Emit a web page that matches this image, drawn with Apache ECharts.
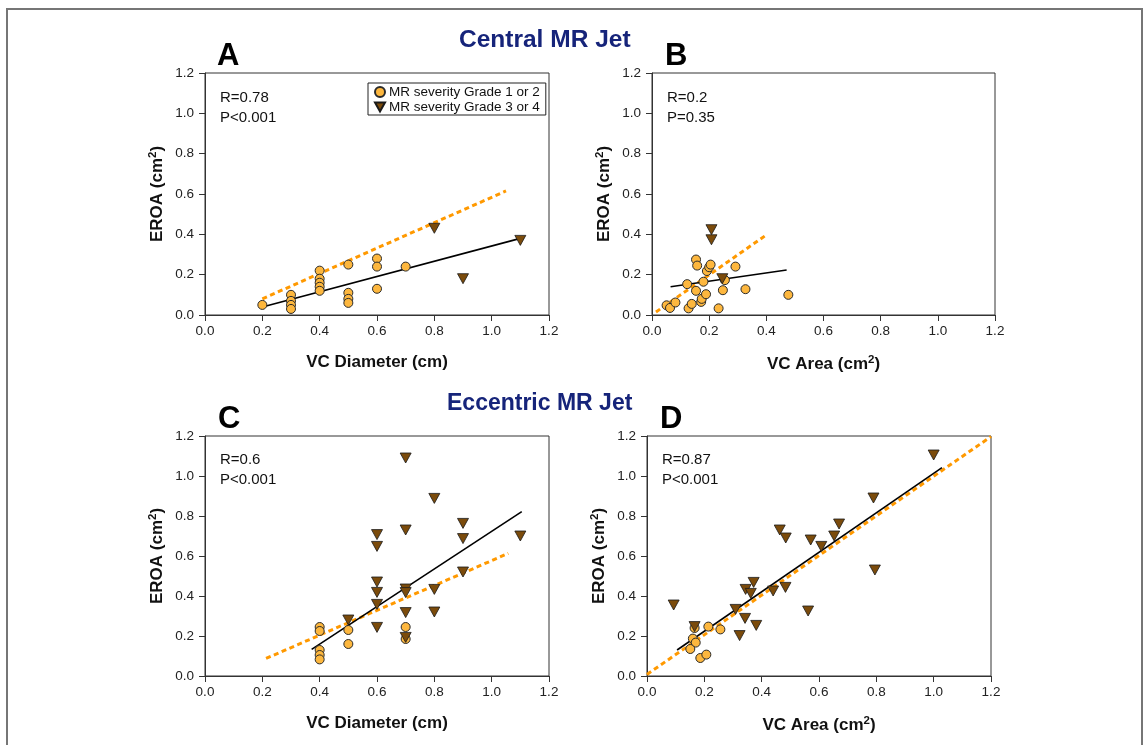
<!DOCTYPE html>
<html>
<head>
<meta charset="utf-8">
<script src="https://cdn.jsdelivr.net/npm/echarts@6/dist/echarts.min.js"></script>
<style>
html,body{margin:0;padding:0;background:#fff;}
#frame{position:absolute;left:6px;top:8px;width:1137px;height:800px;border:2px solid #767676;box-sizing:border-box;}
#chart{position:absolute;left:0;top:0;width:1148px;height:745px;}
</style>
</head>
<body>
<div id="frame"></div>
<div id="chart"></div>
<script>
// ---- data ----
const tickLabels = ['0.0','0.2','0.4','0.6','0.8','1.0','1.2'];
const legendNames = ['MR severity Grade 1 or 2', 'MR severity Grade 3 or 4'];
const panelLetters = ['A','B','C','D'];
const panelStats = [['R=0.78','P<0.001'],['R=0.2','P=0.35'],['R=0.6','P<0.001'],['R=0.87','P<0.001']];
const sectionTitles = ['Central MR Jet','Eccentric MR Jet'];

const aGrade12 = [[0.2,0.05],[0.3,0.10],[0.3,0.07],[0.3,0.05],[0.3,0.03],[0.4,0.22],[0.4,0.18],[0.4,0.16],[0.4,0.14],[0.4,0.12],[0.5,0.25],[0.5,0.11],[0.5,0.08],[0.5,0.06],[0.6,0.28],[0.6,0.24],[0.6,0.13],[0.7,0.24]];
const aGrade34 = [[0.8,0.43],[0.9,0.18],[1.1,0.37]];
const aFit = [[0.2,0.04],[1.1,0.38]];
const aDash = [[0.2,0.08],[1.05,0.615]];

const bGrade12 = [[0.051,0.048],[0.063,0.035],[0.082,0.062],[0.123,0.153],[0.128,0.033],[0.139,0.055],[0.154,0.275],[0.158,0.245],[0.154,0.12],[0.172,0.065],[0.174,0.08],[0.18,0.165],[0.189,0.103],[0.192,0.218],[0.2,0.237],[0.205,0.25],[0.233,0.033],[0.248,0.123],[0.255,0.173],[0.292,0.24],[0.327,0.128],[0.477,0.10]];
const bGrade34 = [[0.208,0.423],[0.208,0.373],[0.246,0.18]];
const bFit = [[0.065,0.14],[0.471,0.223]];
const bDash = [[0.014,0.015],[0.401,0.398]];

const cGrade12 = [[0.4,0.245],[0.4,0.225],[0.4,0.13],[0.4,0.105],[0.4,0.083],[0.5,0.23],[0.5,0.16],[0.7,0.245],[0.7,0.185]];
const cGrade34 = [[0.5,0.28],[0.6,0.707],[0.6,0.648],[0.6,0.47],[0.6,0.418],[0.6,0.358],[0.6,0.243],[0.7,1.09],[0.7,0.73],[0.7,0.435],[0.7,0.417],[0.7,0.317],[0.7,0.193],[0.8,0.888],[0.8,0.433],[0.8,0.32],[0.9,0.763],[0.9,0.687],[0.9,0.52],[1.1,0.70]];
const cFit = [[0.372,0.133],[1.105,0.822]];
const cDash = [[0.213,0.088],[1.058,0.613]];

const dGrade12 = [[0.166,0.24],[0.214,0.247],[0.256,0.233],[0.16,0.187],[0.17,0.167],[0.151,0.135],[0.186,0.09],[0.207,0.107]];
const dGrade34 = [[1.0,1.105],[0.79,0.89],[0.67,0.76],[0.463,0.73],[0.484,0.69],[0.571,0.68],[0.653,0.70],[0.608,0.648],[0.795,0.53],[0.372,0.468],[0.344,0.433],[0.362,0.413],[0.44,0.425],[0.483,0.443],[0.093,0.355],[0.309,0.333],[0.342,0.288],[0.381,0.253],[0.323,0.202],[0.166,0.247],[0.562,0.325]];
const dFit = [[0.105,0.13],[1.029,1.042]];
const dDash = [[0.0,0.008],[1.2,1.197]];

// ---- styling / layout ----
const regular = "'Liberation Sans',Arial,sans-serif";
const axisCol = '#333';
const circleFill = '#FDB73E';
const triFill = '#7B4B0B';
const triPath = 'path://M0,0L10,0L5,9Z';

const grids = [
  {left:205, top:73, width:344, height:242},
  {left:652, top:73, width:343, height:242},
  {left:205, top:436, width:344, height:240},
  {left:647, top:436, width:344, height:240}
];
const xNames = ['{b|VC Diameter (cm)}','{b|VC Area (cm}{s|2}{b|)}','{b|VC Diameter (cm)}','{b|VC Area (cm}{s|2}{b|)}'];
const yName = '{b|EROA (cm}{s|2}{b|)}';
const nameRich = {
  b:{fontFamily:regular, fontWeight:'bold', fontSize:17, color:'#111'},
  s:{fontFamily:regular, fontWeight:'bold', fontSize:11.5, color:'#111', padding:[0,0,8,0]}
};

function mkAxis(i, isX){
  return {
    type:'value', gridIndex:i, min:0, max:1.2, interval:0.2,
    name: isX ? xNames[i] : yName,
    nameLocation:'middle',
    nameGap: isX ? 39 : 38,
    nameTextStyle:{rich:nameRich},
    axisLine:{show:true, onZero:false, lineStyle:{color:axisCol, width:1}},
    axisTick:{show:true, inside:false, length:6, lineStyle:{color:axisCol}},
    axisLabel:{show:true, margin: isX ? 9 : 11, fontFamily:regular, fontSize:13.5, color:'#222',
      formatter:function(v){ return tickLabels[Math.round(v/0.2)]; }},
    splitLine:{show:false}
  };
}

const panels = [
  [aGrade12,aGrade34,aFit,aDash],
  [bGrade12,bGrade34,bFit,bDash],
  [cGrade12,cGrade34,cFit,cDash],
  [dGrade12,dGrade34,dFit,dDash]
];

const series = [];
panels.forEach(function(p,i){
  series.push({type:'line', xAxisIndex:i, yAxisIndex:i, data:p[3], symbol:'none', silent:true,
    lineStyle:{color:'#FF9900', width:3, type:[5,3.5]}, z:2});
  series.push({type:'line', xAxisIndex:i, yAxisIndex:i, data:p[2], symbol:'none', silent:true,
    lineStyle:{color:'#000', width:1.6}, z:3});
  series.push({type:'scatter', name:legendNames[0], xAxisIndex:i, yAxisIndex:i, data:p[0],
    symbol:'circle', symbolSize:9,
    itemStyle:{color:circleFill, borderColor:'#2a2a2a', borderWidth:1, opacity:1}, z:4});
  series.push({type:'scatter', name:legendNames[1], xAxisIndex:i, yAxisIndex:i, data:p[1],
    symbol:triPath, symbolSize:[11,10],
    itemStyle:{color:triFill, borderColor:'#1a1a1a', borderWidth:0.8, opacity:1}, z:4});
});

const titles = [];
// section titles (title padding is 5px)
titles.push({text:sectionTitles[0], left:454, top:23, textStyle:{fontFamily:regular, fontWeight:'bold', fontSize:24.5, color:'#16247a'}});
titles.push({text:sectionTitles[1], left:442, top:387, textStyle:{fontFamily:regular, fontWeight:'bold', fontSize:23, color:'#16247a'}});
// panel letters
const letterPos = [[212,36],[660,36],[213,399],[655,399]];
panelLetters.forEach(function(l,i){
  titles.push({text:l, left:letterPos[i][0], top:letterPos[i][1], textStyle:{fontFamily:regular, fontWeight:'bold', fontSize:31, color:'#000'}});
});
// stats
const statPos = [[215,85],[662,85],[215,447],[657,447]];
panelStats.forEach(function(s,i){
  titles.push({text:s[0], left:statPos[i][0], top:statPos[i][1], textStyle:{fontFamily:regular, fontWeight:'normal', fontSize:15, color:'#111'}});
  titles.push({text:s[1], left:statPos[i][0], top:statPos[i][1]+20, textStyle:{fontFamily:regular, fontWeight:'normal', fontSize:15, color:'#111'}});
});

const option = {
  animation:false,
  backgroundColor:'transparent',
  title: titles,
  legend:{
    data:[{name:legendNames[0], icon:'circle'},{name:legendNames[1], icon:triPath}],
    orient:'vertical', left:368, top:83,
    itemWidth:10, itemHeight:10, itemGap:1,
    padding:[2,6,1,6],
    borderColor:'#222', borderWidth:1,
    selectedMode:false,
    textStyle:{fontFamily:regular, fontSize:13.5, color:'#111', padding:[0,0,0,-1]}
  },
  grid: grids.map(function(g){ return Object.assign({show:true, borderColor:axisCol, borderWidth:1, backgroundColor:'transparent', containLabel:false}, g); }),
  xAxis: [0,1,2,3].map(function(i){ return mkAxis(i,true); }),
  yAxis: [0,1,2,3].map(function(i){ return mkAxis(i,false); }),
  series: series
};

const chart = echarts.init(document.getElementById('chart'), null, {renderer:'canvas'});
chart.setOption(option);
</script>
</body>
</html>
